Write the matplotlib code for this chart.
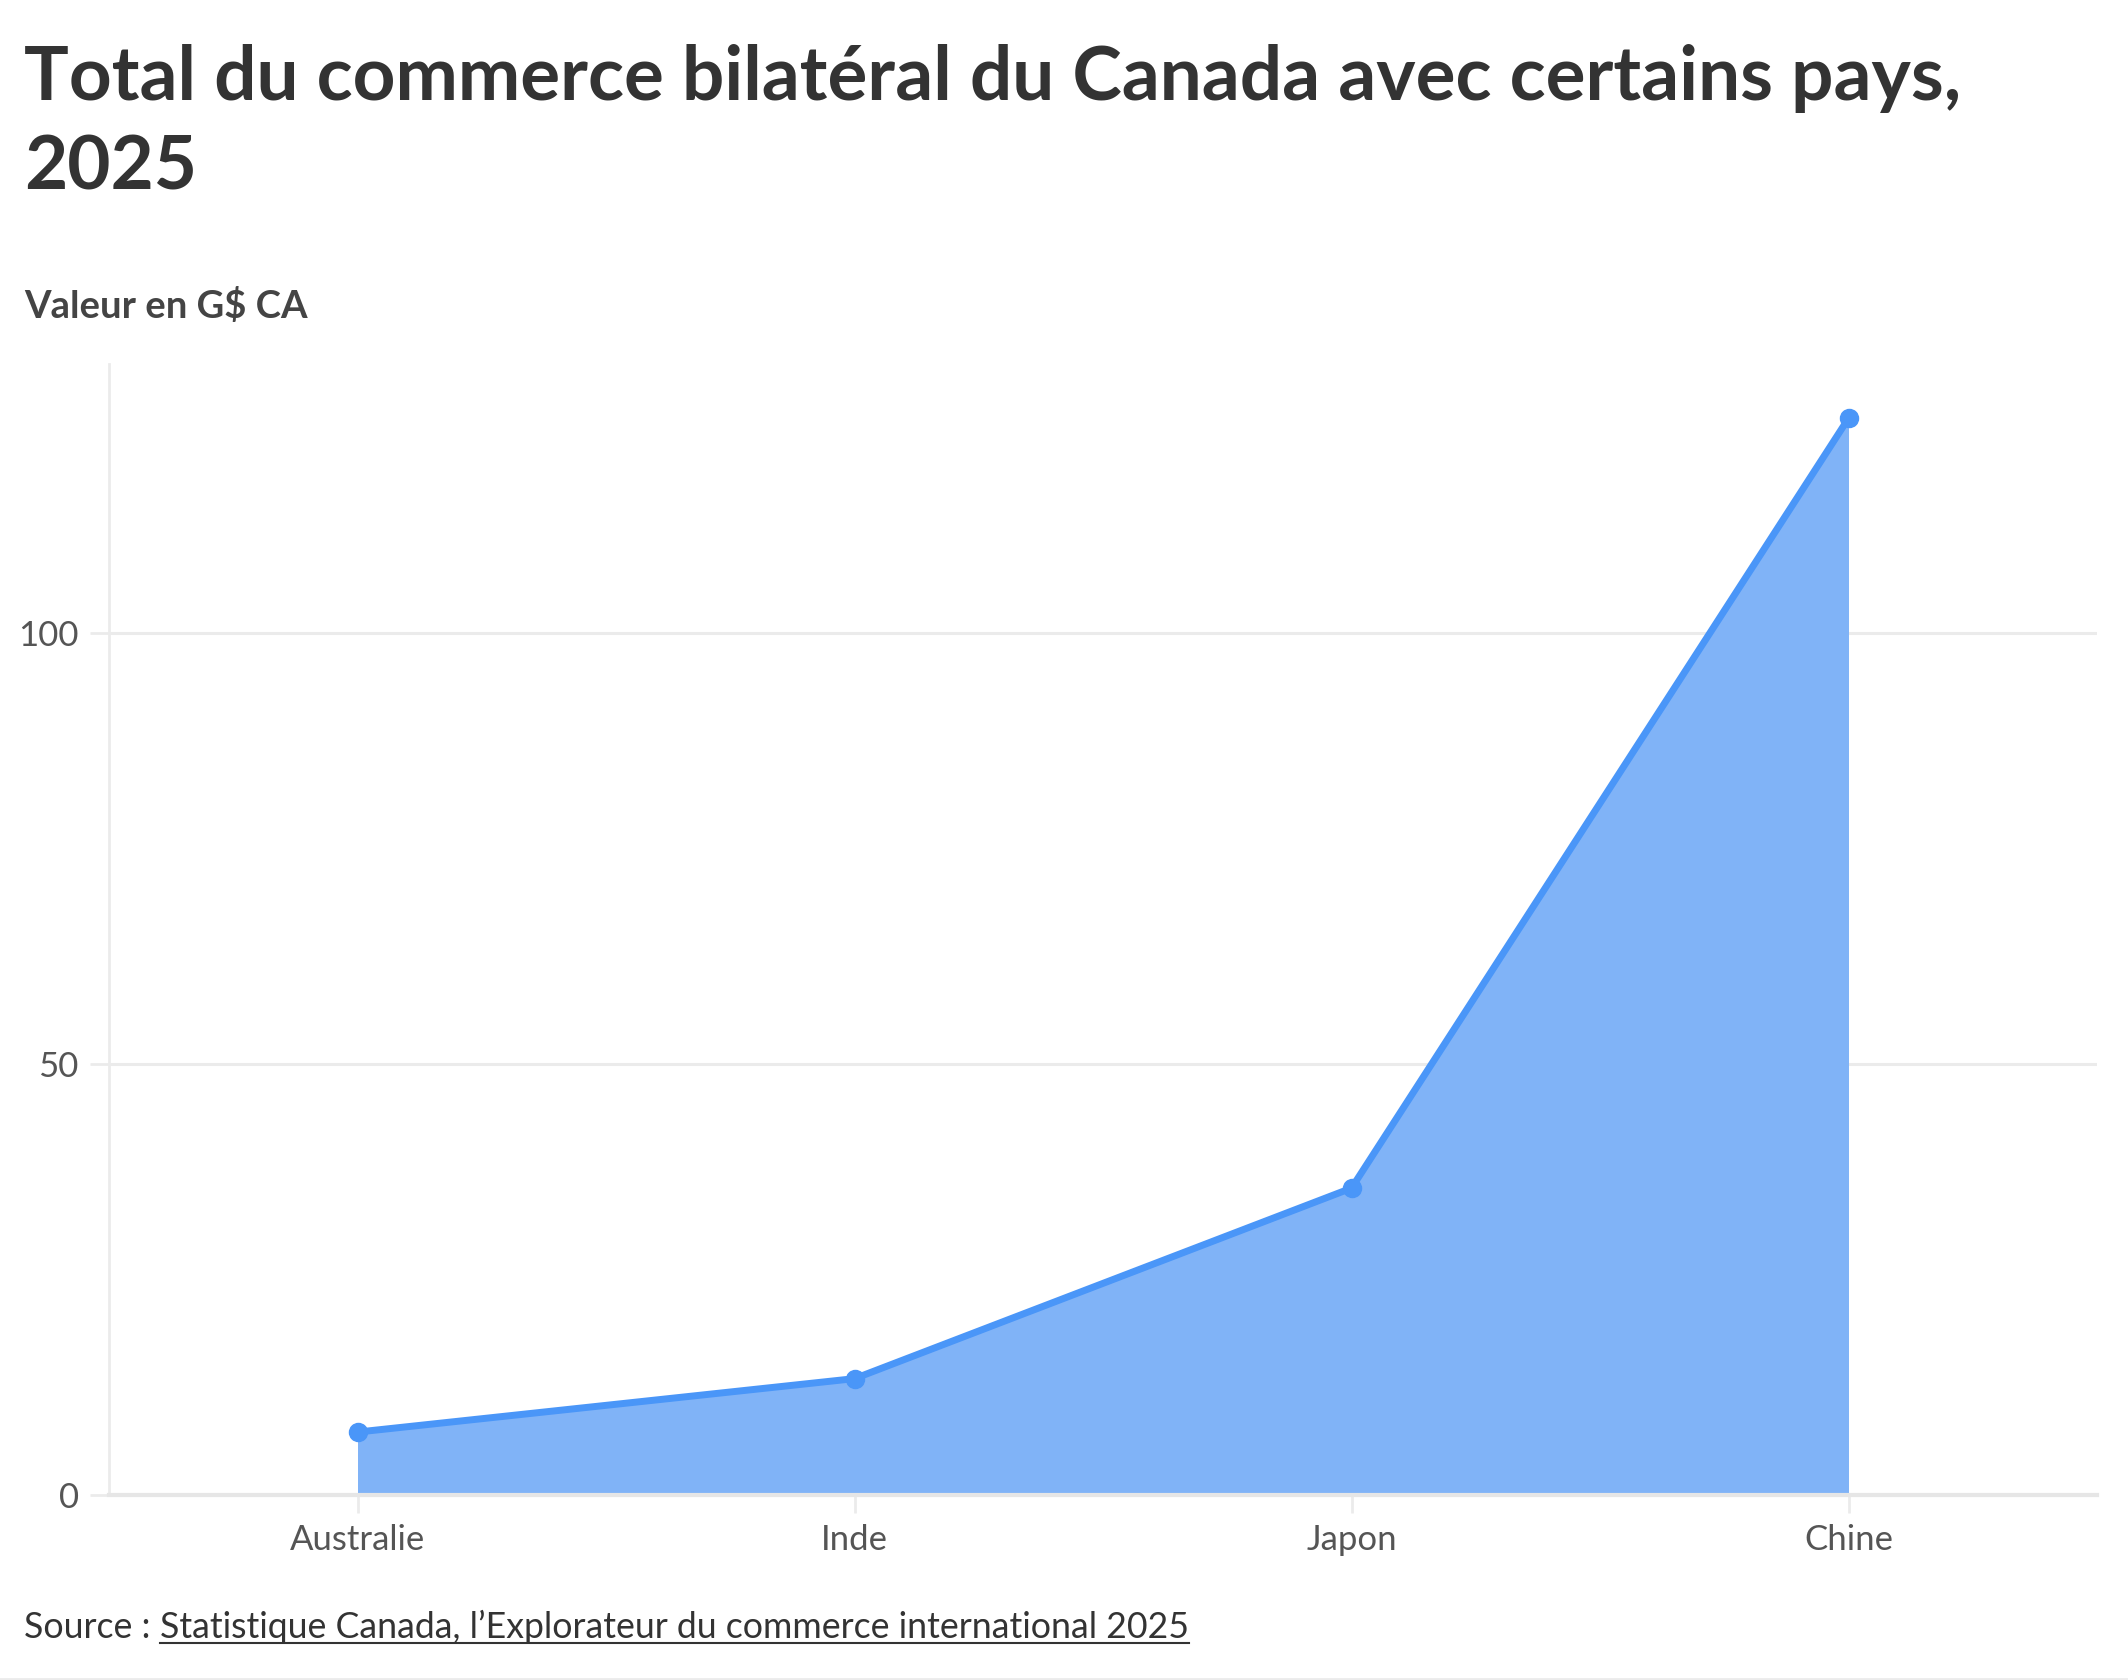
import matplotlib.pyplot as plt
from matplotlib.lines import Line2D

# data
pays = ["Australie", "Inde", "Japon", "Chine"]
valeurs = [7.3, 13.5, 35.6, 124.9]
y_ticks = [0, 50, 100]

titre_1 = "Total du commerce bilatéral du Canada avec certains pays,"
titre_2 = "2025"
sous_titre = "Valeur en G$ CA"
source_lien = "Statistique Canada, l\u2019Explorateur du commerce international 2025"

plt.rcParams['font.family'] = ['Lato', 'DejaVu Sans']

W, H = 2128, 1680
fig = plt.figure(figsize=(W / 100, H / 100), dpi=100)
ax = fig.add_axes([109 / W, 1 - 1495 / H, (2097 - 109) / W, (1495 - 364) / H])

x = list(range(len(pays)))
ax.fill_between(x, valeurs, 0, color="#80b3f7", linewidth=0, zorder=2)
ax.plot(x, valeurs, color="#4a96f8", lw=5, marker="o", markersize=13,
        solid_joinstyle="round", zorder=3)

ax.set_xlim(-0.5, 3.5)
ax.set_ylim(0, 131.2)
ax.set_xticks(x)
ax.set_xticklabels(pays)
ax.set_yticks(y_ticks)
ax.set_yticklabels([str(v) for v in y_ticks])

ax.grid(axis="y", color="#ebebeb", lw=2.2, zorder=0)
ax.set_axisbelow(True)
for s in ["top", "right"]:
    ax.spines[s].set_visible(False)
ax.spines["left"].set_color("#ebebeb")
ax.spines["left"].set_linewidth(2)
ax.spines["bottom"].set_color("#e6e6e6")
ax.spines["bottom"].set_linewidth(3)
ax.tick_params(axis="y", length=13.7, width=2, color="#ebebeb", pad=8,
               labelsize=25, labelcolor="#555555")
ax.tick_params(axis="x", length=13, width=2, color="#ebebeb", pad=8,
               labelsize=25, labelcolor="#555555")

# title block
fig.text(24 / W, 1 - 100 / H, titre_1, fontsize=53.7, fontweight="bold",
         color="#333333", va="baseline", ha="left")
fig.text(24 / W, 1 - 190 / H, titre_2, fontsize=53.7, fontweight="bold",
         color="#333333", va="baseline", ha="left")
fig.text(24 / W, 1 - 318 / H, sous_titre, fontsize=27.5, fontweight="bold",
         color="#444444", va="baseline", ha="left")

# source with underlined link
t1 = fig.text(24 / W, 1 - 1638 / H, "Source : ", fontsize=25.7,
              color="#333333", va="baseline", ha="left")
fig.canvas.draw()
r = fig.canvas.get_renderer()
bb = t1.get_window_extent(r)
t2 = fig.text(bb.x1 / W, 1 - 1638 / H, source_lien, fontsize=25.7,
              color="#333333", va="baseline", ha="left")
fig.canvas.draw()
bb2 = t2.get_window_extent(r)
yl = 1 - 1643 / H
fig.add_artist(Line2D([bb2.x0 / W, bb2.x1 / W], [yl, yl], color="#333333",
                      lw=1.5, transform=fig.transFigure))

# bottom border
fig.add_artist(Line2D([0, 1], [1 / H, 1 / H], color="#ebebeb", lw=2,
                      transform=fig.transFigure))

fig.savefig("out.png", dpi=100)
